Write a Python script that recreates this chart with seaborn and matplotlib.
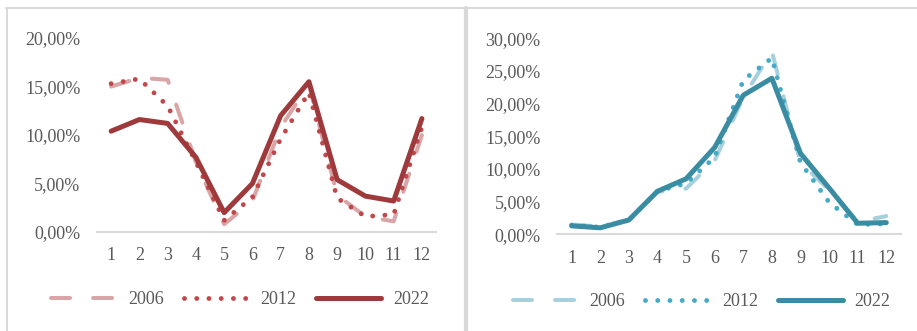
import matplotlib
matplotlib.use("Agg")
import matplotlib.pyplot as plt
from matplotlib.lines import Line2D
from matplotlib.ticker import FuncFormatter
import seaborn as sns

# Monthly share (%) of the yearly total
months = list(range(1, 13))
years = ["2006", "2012", "2022"]

left_2006 = [15.0, 15.9, 15.7, 7.2, 0.8, 3.2, 10.8, 15.2, 3.8, 1.6, 1.1, 10.0]
left_2012 = [15.3, 15.8, 13.0, 7.2, 1.2, 3.6, 9.6, 14.4, 3.5, 1.6, 1.8, 10.8]
left_2022 = [10.4, 11.6, 11.2, 7.7, 2.0, 5.0, 12.0, 15.5, 5.4, 3.7, 3.2, 11.7]

right_2006 = [1.5, 1.2, 2.2, 6.5, 7.0, 11.3, 21.0, 28.0, 11.0, 6.8, 1.9, 2.8]
right_2012 = [1.4, 1.1, 2.2, 6.6, 7.8, 11.8, 23.6, 27.0, 11.0, 4.9, 1.5, 1.6]
right_2022 = [1.3, 1.0, 2.2, 6.6, 8.5, 13.3, 21.3, 23.9, 12.4, 7.1, 1.7, 1.8]

left_ticks = [0, 5, 10, 15, 20]
right_ticks = [0, 5, 10, 15, 20, 25, 30]

left_colors = ["#D9A5A6", "#C0484B", "#9E3A3B"]
right_colors = ["#A6D0DE", "#45AAC6", "#3A8CA3"]

sns.set_theme(style="white")
plt.rcParams["font.family"] = ["Liberation Serif", "DejaVu Serif"]
plt.rcParams["lines.scale_dashes"] = False

TEXT = "#595959"
GRID = "#D9D9D9"

fig = plt.figure(figsize=(9.17, 3.31), dpi=100)
fig.patch.set_facecolor("white")

ax_l = fig.add_axes([0.1058, 0.299, 0.3697, 0.586])
ax_r = fig.add_axes([0.6078, 0.292, 0.3743, 0.592])

styles = [
    dict(lw=2.9, dashes=(13.7, 16.6)),   # long dash
    dict(lw=3.5, dashes=(0.01, 8.8)),    # round dots
    dict(lw=3.6, dashes=None),           # solid
]


def draw_panel(ax, series, colors, ticks, legend_x, legend_y):
    handles = []
    for vals, col, st, name in zip(series, colors, styles, years):
        sns.lineplot(x=months, y=vals, ax=ax, color=col, lw=st["lw"])
        line = ax.lines[-1]
        if st["dashes"] is not None:
            line.set_dashes(st["dashes"])
        line.set_dash_capstyle("round")
        line.set_solid_capstyle("round")
        line.set_solid_joinstyle("round")
        h = Line2D([], [], color=col, lw=st["lw"])
        if st["dashes"] is not None:
            h.set_dashes(st["dashes"])
        h.set_dash_capstyle("round")
        h.set_solid_capstyle("round")
        handles.append(h)

    ax.set_xlim(0.5, 12.5)
    ax.set_ylim(ticks[0], ticks[-1])
    ax.set_xticks(months)
    ax.set_xticklabels([str(m) for m in months])
    ax.set_yticks(ticks)
    ax.yaxis.set_major_formatter(
        FuncFormatter(lambda v, p: f"{v:.2f}".replace(".", ",") + "%"))
    ax.tick_params(axis="both", length=0, labelsize=13, colors=TEXT)
    ax.tick_params(axis="y", pad=12)
    ax.tick_params(axis="x", pad=11)
    for side in ["top", "right", "left"]:
        ax.spines[side].set_visible(False)
    ax.spines["bottom"].set_color(GRID)
    ax.spines["bottom"].set_linewidth(1.5)
    ax.set_xlabel("")
    ax.set_ylabel("")
    ax.grid(False)
    ax.set_facecolor("none")

    leg = ax.legend(handles, years, loc="center", ncol=3,
                    bbox_to_anchor=(legend_x, legend_y),
                    bbox_transform=fig.transFigure, frameon=False,
                    fontsize=13, handlelength=3.6, handletextpad=0.65,
                    columnspacing=1.1, borderpad=0)
    for t in leg.get_texts():
        t.set_color(TEXT)


draw_panel(ax_l, [left_2006, left_2012, left_2022], left_colors,
           left_ticks, 0.2617, 0.094)
draw_panel(ax_r, [right_2006, right_2012, right_2022], right_colors,
           right_ticks, 0.765, 0.088)

# Chart-area frames
W, H = 917, 331
def fx(px):
    return px / W
def fy(py):
    return 1 - py / H

fig.add_artist(Line2D([fx(6), fx(917)], [fy(8.3), fy(8.3)],
                      color=GRID, lw=1.4, transform=fig.transFigure))
fig.add_artist(Line2D([fx(6.7), fx(6.7)], [fy(8.3), fy(331)],
                      color=GRID, lw=1.4, transform=fig.transFigure))
fig.add_artist(Line2D([fx(465.5), fx(465.5)], [fy(8.3), fy(331)],
                      color=GRID, lw=3.0, transform=fig.transFigure))

fig.savefig("out.png", dpi=100, facecolor="white")
